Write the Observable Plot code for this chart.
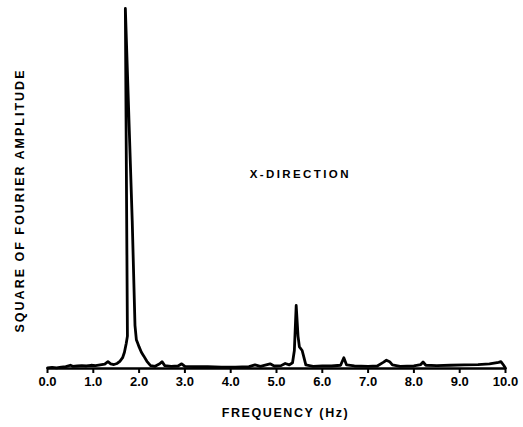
<!DOCTYPE html>
<html>
<head>
<meta charset="utf-8">
<script src="https://cdn.jsdelivr.net/npm/d3@7"></script>
<script src="https://cdn.jsdelivr.net/npm/@observablehq/plot@0.6"></script>
<style>
  body { margin: 0; background: #fff; }
</style>
</head>
<body>
<div id="chart"></div>
<script>
// Frequency (Hz) and relative square of Fourier amplitude (peak = 100)
const freqHz = [
  0.00, 0.10, 0.20, 0.30, 0.40, 0.50, 0.55, 0.65, 0.75, 0.85, 0.95, 1.05, 1.15, 1.25,
  1.32, 1.38, 1.45, 1.52, 1.58, 1.64, 1.68, 1.72, 1.745, 1.70, 1.85, 1.91, 1.94, 1.97,
  2.00, 2.05, 2.10, 2.17, 2.25, 2.35, 2.45, 2.50, 2.56, 2.70, 2.85, 2.93, 3.00, 3.20,
  3.50, 3.80, 4.10, 4.40, 4.53, 4.65, 4.86, 4.95, 5.10, 5.19, 5.28, 5.35, 5.39, 5.43,
  5.47, 5.50, 5.56, 5.60, 5.64, 5.80, 6.00, 6.20, 6.40, 6.47, 6.53, 6.70, 7.00, 7.20,
  7.33, 7.40, 7.47, 7.53, 7.70, 8.00, 8.15, 8.20, 8.26, 8.50, 8.80, 9.10, 9.40, 9.65,
  9.85, 9.90, 9.96, 10.00
];
const amplitude = [
  0.2, 0.3, 0.2, 0.4, 0.5, 0.9, 0.6, 0.7, 0.8, 0.7, 0.9, 0.8, 1.0, 1.2,
  1.9, 1.3, 1.1, 1.4, 2.0, 3.0, 4.5, 7.0, 9.0, 100, 41, 12, 8, 7,
  6, 4.5, 3.5, 2.0, 0.8, 0.6, 1.3, 1.9, 0.8, 0.6, 0.7, 1.3, 0.6, 0.5,
  0.5, 0.4, 0.4, 0.5, 1.0, 0.6, 1.3, 0.7, 0.8, 1.4, 1.0, 1.6, 5, 17.5,
  9, 6, 5, 3, 1.0, 0.6, 0.7, 0.7, 0.9, 3.0, 1.0, 0.7, 0.6, 0.7,
  1.7, 2.3, 1.9, 1.0, 0.6, 0.7, 1.1, 1.8, 0.9, 0.8, 0.9, 1.0, 1.1, 1.3,
  1.7, 1.9, 0.9, 0.1
];
const xTicks = [0, 1, 2, 3, 4, 5, 6, 7, 8, 9, 10];
const xLabel = "FREQUENCY (Hz)";
const yLabel = "SQUARE OF FOURIER AMPLITUDE";
const noteText = ["X-DIRECTION"];
const noteFreq = [5.52];
const noteAmp = [54];

const spectrum = freqHz.map((f, i) => ({f, a: amplitude[i]}));
const notes = noteText.map((t, i) => ({t, f: noteFreq[i], a: noteAmp[i]}));

const chart = Plot.plot({
  width: 523,
  height: 427,
  marginLeft: 47,
  marginRight: 18,
  marginTop: 8,
  marginBottom: 59,
  style: {fontFamily: "'Liberation Sans', Arial, sans-serif", fontSize: "12px", fontWeight: "bold", color: "#000", background: "#fff"},
  x: {domain: [0, 10]},
  y: {domain: [0, 100], axis: null},
  marks: [
    Plot.ruleY([0], {stroke: "#000", strokeWidth: 2.5}),
    Plot.axisX({ticks: xTicks, tickFormat: d => d.toFixed(1), tickSize: 5, tickPadding: 3, strokeWidth: 2, label: null, fontSize: 13, fontWeight: "bold"}),
    Plot.line(spectrum, {x: "f", y: "a", stroke: "#000", strokeWidth: 2.8, strokeLinejoin: "round", strokeLinecap: "round"}),
    Plot.text(notes, {x: "f", y: "a", text: "t", fontSize: 11.5, fontWeight: "bold"}),
    Plot.text([xLabel], {frameAnchor: "bottom", lineAnchor: "middle", textAnchor: "middle", dy: 44, dx: 9, fontSize: 12.5, fontWeight: "bold"}),
    Plot.text([yLabel], {frameAnchor: "left", rotate: -90, lineAnchor: "middle", textAnchor: "middle", dx: -28, dy: 12, fontSize: 12.5, fontWeight: "bold"})
  ]
});

d3.select(chart).selectAll("text").each(function() {
  const s = d3.select(this);
  const t = s.text();
  if (t === noteText[0]) s.style("letter-spacing", "2.4px");
  if (t === xLabel) s.style("letter-spacing", "1.6px");
  if (t === yLabel) s.style("letter-spacing", "2px");
});

document.getElementById("chart").appendChild(chart);
</script>
</body>
</html>
